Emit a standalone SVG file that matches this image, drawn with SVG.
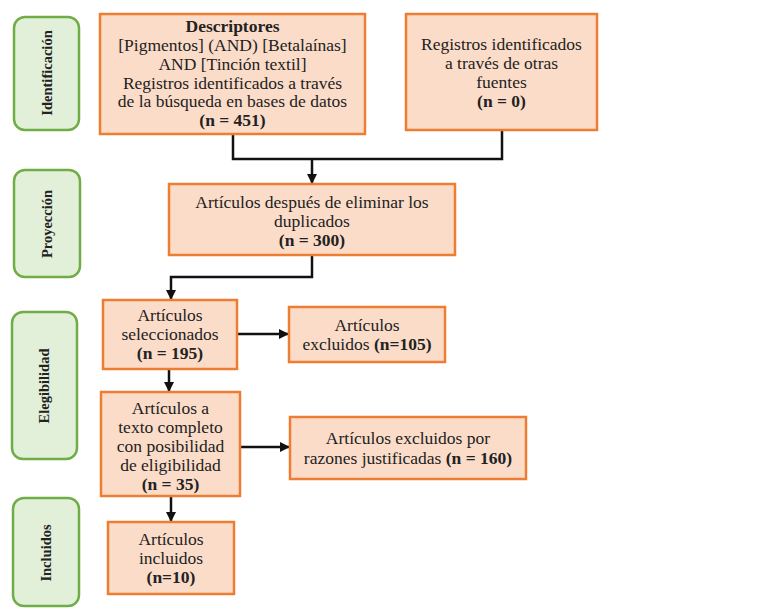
<svg xmlns="http://www.w3.org/2000/svg" width="784" height="609" viewBox="0 0 784 609">
<style>
.stage{fill:#E2F0D9;stroke:#70AD47;stroke-width:2.5}
.box{fill:#FBDCC9;stroke:#ED7D31;stroke-width:2.5}
.st{font-family:"Liberation Serif","Times New Roman",serif;font-size:14.5px;font-weight:bold;fill:#222;text-anchor:middle}
.t{font-family:"Liberation Serif","Times New Roman",serif;font-size:17.5px;fill:#222;text-anchor:middle}
.b{font-weight:bold}
.c{fill:none;stroke:#111;stroke-width:2.5}
</style>
<defs>
<marker id="arr" markerUnits="userSpaceOnUse" markerWidth="10" markerHeight="10" refX="10" refY="5" orient="auto">
<path d="M0,0 L10,5 L0,10 z" fill="#111"/>
</marker>
</defs>
<rect width="784" height="609" fill="#fff"/>

<g id="stage-identificacion">
<rect class="stage" x="14" y="17" width="65" height="113" rx="11"/>
<text class="st" transform="translate(52,73) rotate(-90)">Identificación</text>
</g>
<g id="stage-proyeccion">
<rect class="stage" x="14" y="170" width="66" height="107" rx="11"/>
<text class="st" transform="translate(52,224) rotate(-90)">Proyección</text>
</g>
<g id="stage-elegibilidad">
<rect class="stage" x="12" y="312" width="65" height="147" rx="11"/>
<text class="st" transform="translate(49,386) rotate(-90)">Elegibilidad</text>
</g>
<g id="stage-incluidos">
<rect class="stage" x="13" y="498" width="66" height="108" rx="11"/>
<text class="st" transform="translate(51,553) rotate(-90)">Incluidos</text>
</g>

<g id="connectors">
<path class="c" d="M233,134 V159 H502 V130"/>
<path class="c" d="M312,159 V184" marker-end="url(#arr)"/>
<path class="c" d="M312,255 V277 H171 V300" marker-end="url(#arr)"/>
<path class="c" d="M237,334 H289" marker-end="url(#arr)"/>
<path class="c" d="M169,369 V392" marker-end="url(#arr)"/>
<path class="c" d="M240,447 H290" marker-end="url(#arr)"/>
<path class="c" d="M171,496 V522" marker-end="url(#arr)"/>
</g>

<g id="n1">
<rect class="box" x="100" y="14" width="265" height="120"/>
<text class="t b" x="232.5" y="32">Descriptores</text>
<text class="t" x="232.5" y="51">[Pigmentos] (AND) [Betalaínas]</text>
<text class="t" x="232.5" y="70">AND [Tinción textil]</text>
<text class="t" x="232.5" y="88.5">Registros identificados a través</text>
<text class="t" x="232.5" y="107">de la búsqueda en bases de datos</text>
<text class="t b" x="232.5" y="125.5">(n = 451)</text>
</g>
<g id="n2">
<rect class="box" x="406" y="14" width="191" height="116"/>
<text class="t" x="501.5" y="50">Registros identificados</text>
<text class="t" x="501.5" y="69">a través de otras</text>
<text class="t" x="501.5" y="88">fuentes</text>
<text class="t b" x="501.5" y="107">(n = 0)</text>
</g>
<g id="n3">
<rect class="box" x="169" y="184" width="286" height="71"/>
<text class="t" x="312" y="208">Artículos después de eliminar los</text>
<text class="t" x="312" y="227">duplicados</text>
<text class="t b" x="312" y="246">(n = 300)</text>
</g>
<g id="n4">
<rect class="box" x="103" y="300" width="134" height="69"/>
<text class="t" x="170" y="321">Artículos</text>
<text class="t" x="170" y="340">seleccionados</text>
<text class="t b" x="170" y="359">(n = 195)</text>
</g>
<g id="n5">
<rect class="box" x="289" y="307" width="156" height="55"/>
<text class="t" x="367" y="331">Artículos</text>
<text class="t" x="367" y="350">excluidos <tspan class="b">(n=105)</tspan></text>
</g>
<g id="n6">
<rect class="box" x="101" y="392" width="139" height="104"/>
<text class="t" x="170.5" y="414">Artículos a</text>
<text class="t" x="170.5" y="433">texto completo</text>
<text class="t" x="170.5" y="452">con posibilidad</text>
<text class="t" x="170.5" y="471">de eligibilidad</text>
<text class="t b" x="170.5" y="490">(n = 35)</text>
</g>
<g id="n7">
<rect class="box" x="290" y="417" width="236" height="62"/>
<text class="t" x="408" y="444">Artículos excluidos por</text>
<text class="t" x="408" y="464">razones justificadas <tspan class="b">(n = 160)</tspan></text>
</g>
<g id="n8">
<rect class="box" x="108" y="522" width="126" height="72"/>
<text class="t" x="171" y="545">Artículos</text>
<text class="t" x="171" y="564">incluidos</text>
<text class="t b" x="171" y="583">(n=10)</text>
</g>
</svg>
